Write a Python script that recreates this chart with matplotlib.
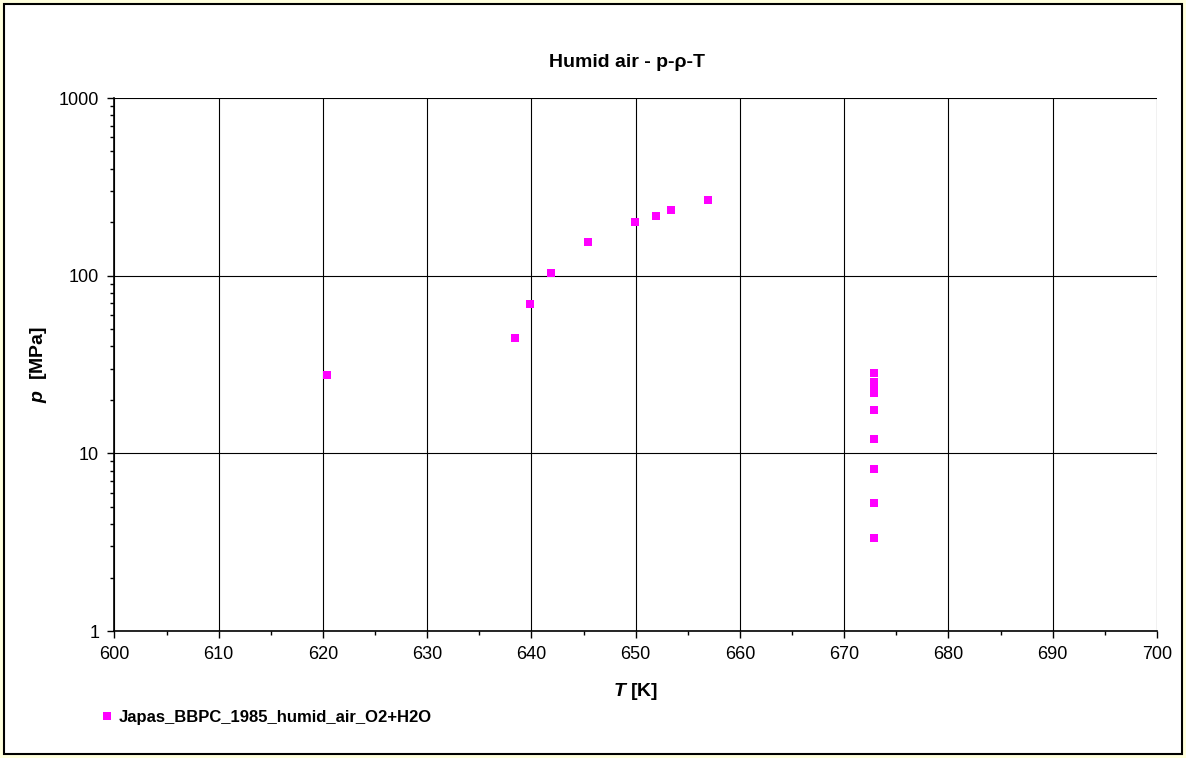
import matplotlib
matplotlib.use("Agg")
import matplotlib.pyplot as plt
from matplotlib.patches import Rectangle
from matplotlib.ticker import LogLocator, MultipleLocator, FixedLocator, NullFormatter

plt.rcParams['font.family'] = ['Liberation Sans', 'DejaVu Sans']
plt.rcParams['mathtext.fontset'] = 'custom'
plt.rcParams['mathtext.it'] = 'Liberation Sans:bold:italic'
plt.rcParams['mathtext.rm'] = 'Liberation Sans:bold'

# data: Japas BBPC 1985, humid air O2+H2O
T_K = [620.4, 638.4, 639.9, 641.9, 645.4, 649.9, 651.9, 653.4, 656.9,
       672.9, 672.9, 672.9, 672.9, 672.9, 672.9, 672.9, 672.9, 672.9]
p_MPa = [27.6, 44.6, 69.3, 103.5, 155.0, 200.0, 217.0, 234.0, 267.0,
         28.3, 25.2, 23.3, 21.9, 17.5, 12.0, 8.17, 5.28, 3.36]
series_name = "Japas_BBPC_1985_humid_air_O2+H2O"

x_ticks = list(range(600, 701, 10))
y_ticks = [1, 10, 100, 1000]

fig = plt.figure(figsize=(11.86, 7.58), dpi=100)
fig.patch.set_facecolor('#FFFFDD')
# white chart area with black frame
fig.patches.append(Rectangle((4 / 1186, 4 / 758), 1178 / 1186, 750 / 758,
                             transform=fig.transFigure, facecolor='white',
                             edgecolor='black', linewidth=1.5, zorder=-10))

ax = fig.add_axes([0.0965, 0.1675, 0.879, 0.7032])
ax.set_yscale('log')
ax.plot(T_K, p_MPa, linestyle='none', marker='s', markersize=6,
        color='#FF00FF', markeredgewidth=0, label=series_name, zorder=3)

ax.set_xlim(600, 700)
ax.set_ylim(1, 1000)
ax.xaxis.set_major_locator(FixedLocator(x_ticks))
ax.xaxis.set_minor_locator(MultipleLocator(5))
ax.yaxis.set_major_locator(FixedLocator(y_ticks))
ax.yaxis.set_minor_locator(LogLocator(base=10, subs=range(2, 10)))
ax.yaxis.set_minor_formatter(NullFormatter())
ax.set_yticklabels([str(v) for v in y_ticks])

ax.grid(True, which='major', color='black', linewidth=0.8)
ax.set_axisbelow(True)
for side in ['top', 'right']:
    ax.spines[side].set_visible(False)
for side in ['left', 'bottom']:
    ax.spines[side].set_linewidth(1.2)

ax.tick_params(which='major', direction='out', length=5, width=1, labelsize=13, pad=6)
ax.tick_params(which='minor', direction='out', length=3, width=1)

ax.set_xlabel(r'$\mathit{T}$ [K]', fontsize=14, fontweight='bold', labelpad=13)
ax.set_ylabel(r'$\mathit{p}$  [MPa]', fontsize=14, fontweight='bold', labelpad=7)
fig.text(0.5287, 0.918, 'Humid air - p-ρ-T', ha='center', va='center',
         fontsize=14, fontweight='bold')

fig.legend(loc='center left', bbox_to_anchor=(0.072, 0.054), frameon=False,
           handlelength=0.8, handletextpad=0.3, markerscale=0.9,
           prop={'weight': 'bold', 'size': 12})

fig.savefig('out.png', dpi=100, facecolor=fig.get_facecolor())
